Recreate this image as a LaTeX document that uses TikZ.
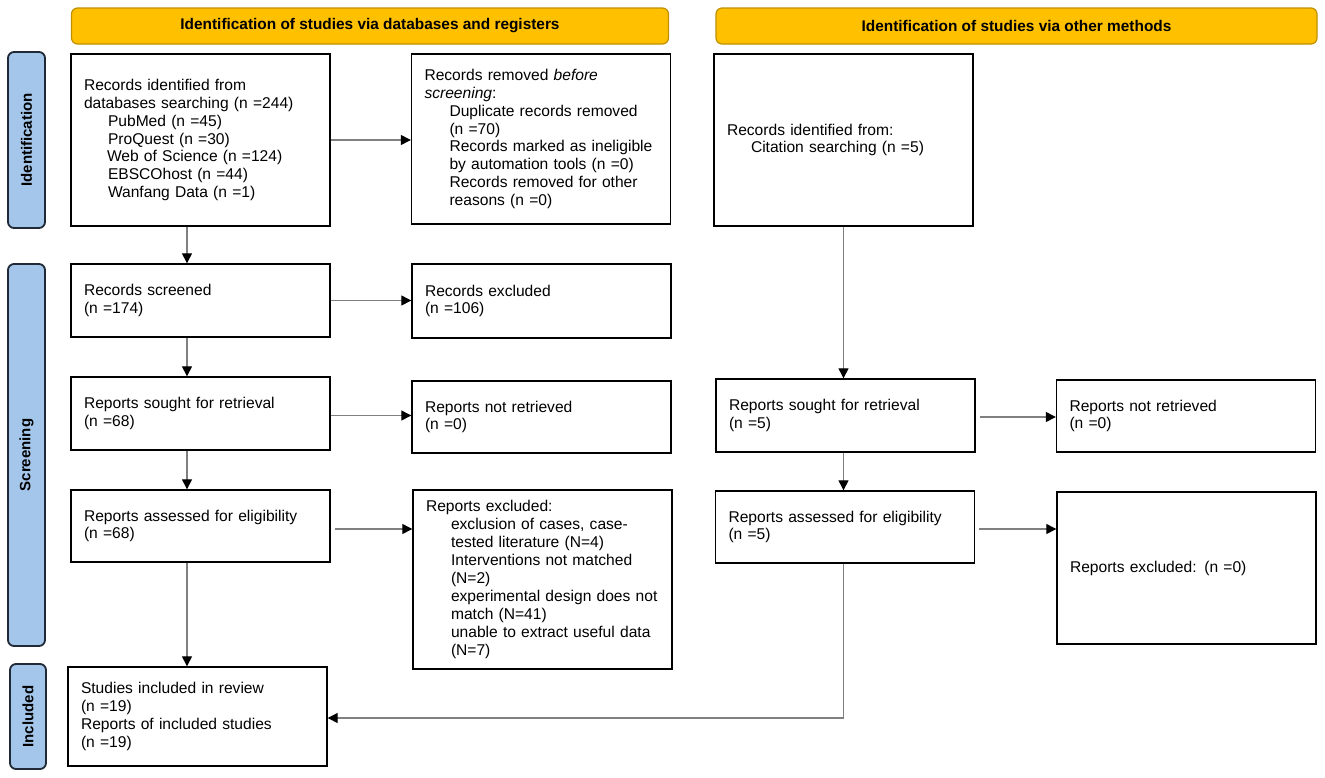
\documentclass[tikz,border=0pt]{standalone}
\usepackage{fontspec}
\setmainfont{Liberation Sans}
\usetikzlibrary{arrows.meta,calc}
\definecolor{hdrfill}{HTML}{FFC000}
\definecolor{hdrline}{HTML}{BF9000}
\definecolor{sidefill}{HTML}{A4C6EA}
\definecolor{sideline}{HTML}{1F2A36}
\definecolor{conn}{HTML}{808080}
\begin{document}
\begin{tikzpicture}[x=1pt,y=-1pt,
  every node/.style={font=\fontsize{15.6pt}{17.9pt}\selectfont},
  hdr/.style={draw=hdrline,line width=1.2pt,fill=hdrfill,rounded corners=6pt,minimum height=36pt,inner sep=0pt,font=\fontsize{15.4pt}{17pt}\selectfont\bfseries},
  side/.style={draw=sideline,line width=1.8pt,fill=sidefill,rounded corners=6pt,minimum width=37pt,inner sep=0pt,rotate=90,font=\fontsize{15pt}{17pt}\selectfont\bfseries},
  box/.style={draw=black,line width=1.4pt,fill=white,inner xsep=13pt,inner ysep=0pt,text width=233pt,align=left,anchor=center},
  arr/.style={draw=conn,line width=1.3pt,-{Triangle[length=10pt,width=10pt,color=black]}},
  ln/.style={draw=conn,line width=1.3pt}]
\useasboundingbox (0,0) rectangle (1325,777);
% headers
\node[hdr,minimum width=597pt] (h1) at (370,26) {Identification of studies via databases and registers};
\node[hdr,minimum width=601pt] (h2) at (1016.5,26) {Identification of studies via other methods};
% side labels
\node[side,minimum height=37pt,minimum width=176pt] (s1) at (26.5,140) {Identification};
\node[side,minimum height=37pt,minimum width=382pt] (s2) at (26.5,455) {Screening};
\node[side,minimum height=36pt,minimum width=105pt] (s3) at (28,716.5) {Included};
% left column
\node[box,minimum height=172pt] (b1) at (200.5,140) {Records identified from\\databases searching (n =244)\\\hspace*{24pt}PubMed (n =45)\\\hspace*{24pt}ProQuest (n =30)\\\hspace*{23pt}Web of Science (n =124)\\\hspace*{24pt}EBSCOhost (n =44)\\\hspace*{24pt}Wanfang Data (n =1)};
\node[box,minimum height=170pt] (b2) at (541,139) {Records removed \textit{before}\\\textit{screening}:\\\hspace*{25pt}Duplicate records removed\\\hspace*{25pt}(n =70)\\\hspace*{25pt}Records marked as ineligible\\\hspace*{25pt}by automation tools (n =0)\\\hspace*{25pt}Records removed for other\\\hspace*{25pt}reasons (n =0)};
\node[box,minimum height=73pt] (scr) at (200.5,300.5) {Records screened\\(n =174)};
\node[box,minimum height=74pt] (exc) at (541.5,301) {Records excluded\\(n =106)};
\node[box,minimum height=73pt] (so) at (200.5,413.5) {Reports sought for retrieval\\(n =68)};
\node[box,minimum height=72pt] (nr) at (541.5,417) {Reports not retrieved\\(n =0)};
\node[box,minimum height=72pt] (as) at (200.5,526) {Reports assessed for eligibility\\(n =68)};
\node[box,minimum height=179pt] (rx) at (542.5,579.5) {Reports excluded:\\\hspace*{25pt}exclusion of cases, case-\\\hspace*{25pt}tested literature (N=4)\\\hspace*{25pt}Interventions not matched\\\hspace*{25pt}(N=2)\\\hspace*{25pt}experimental design does not\\\hspace*{25pt}match (N=41)\\\hspace*{25pt}unable to extract useful data\\\hspace*{25pt}(N=7)};
\node[box,minimum height=99pt] (inc) at (197.5,716.5) {Studies included in review\\(n =19)\\Reports of included studies\\(n =19)};
% right column
\node[box,minimum height=172pt] (cit) at (843.5,140) {Records identified from:\\\hspace*{24pt}Citation searching (n =5)};
\node[box,minimum height=73pt] (rs) at (845.5,415.5) {Reports sought for retrieval\\(n =5)};
\node[box,minimum height=72pt] (rnr) at (1186,416) {Reports not retrieved\\(n =0)};
\node[box,minimum height=72pt] (ra) at (845,527) {Reports assessed for eligibility\\(n =5)};
\node[box,minimum height=152pt] (rrx) at (1186.5,568) {Reports excluded: (n =0)};
% connectors
\coordinate (lx) at (187,0);
\coordinate (rx0) at (843.5,0);
\draw[arr] (b1.south -| lx) -- (scr.north -| lx);
\draw[arr] (scr.south -| lx) -- (so.north -| lx);
\draw[arr] (so.south -| lx) -- (as.north -| lx);
\draw[arr] (as.south -| lx) -- (inc.north -| lx);
\draw[arr] (b1.east) -- (b1.east -| b2.west);
\draw[arr] (scr.east) -- (scr.east -| exc.west);
\draw[arr] ($(so.east)+(0,2)$) -- ($(so.east -| nr.west)+(0,2)$);
\draw[arr] ($(as.east)+(4,3)$) -- ($(as.east -| rx.west)+(0,3)$);
\draw[arr] (cit.south -| rx0) -- (rs.north -| rx0);
\draw[arr] (rs.south -| rx0) -- (ra.north -| rx0);
\draw[arr] ($(rs.east)+(4,1.5)$) -- ($(rs.east -| rnr.west)+(0,1.5)$);
\draw[arr] ($(ra.east)+(4,2)$) -- ($(ra.east -| rrx.west)+(0,2)$);
\draw[arr] (ra.south -| rx0) |- ($(inc.east)+(0,1.5)$);
\end{tikzpicture}
\end{document}
